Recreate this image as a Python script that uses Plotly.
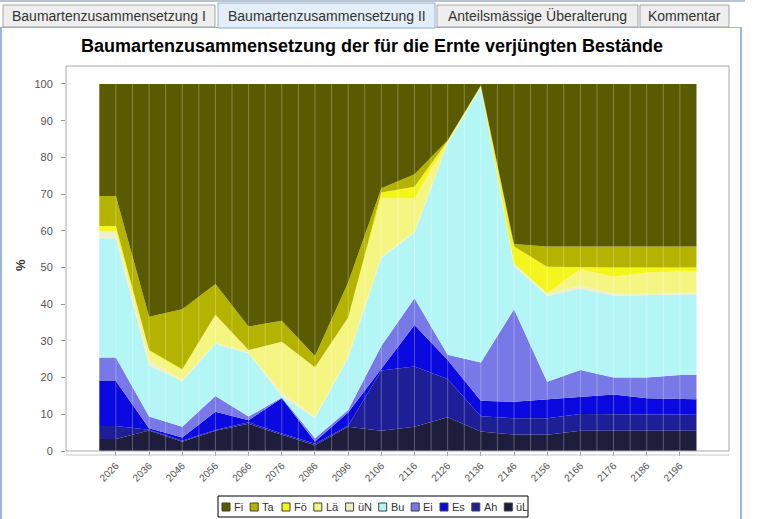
import plotly.graph_objects as go

# ---------------- data ----------------
years = [2026, 2036, 2046, 2056, 2066, 2076, 2086, 2096, 2106, 2116,
         2126, 2136, 2146, 2156, 2166, 2176, 2186, 2196]
tick_labels = [str(y) for y in years]

uL = [3.3, 5.6, 2.5, 5.5, 7.4, 4.4, 1.6, 6.6, 5.5, 6.6, 9.2, 5.3, 4.5, 4.4, 5.5, 5.5, 5.5, 5.5]
Ah = [3.5, 0.2, 0.3, 0.2, 0.4, 0.4, 0.4, 0.3, 16.4, 16.4, 10.4, 4.2, 4.4, 4.5, 4.6, 4.5, 4.4, 4.4]
Es = [12.3, 0.4, 0.9, 5.0, 0.6, 9.6, 0.6, 3.6, 0.4, 11.3, 5.2, 4.2, 4.5, 5.2, 4.7, 5.4, 4.5, 4.2]
Ei = [6.4, 3.2, 2.9, 4.3, 1.0, 0.2, 0.9, 0.7, 6.3, 7.3, 1.4, 10.4, 25.2, 4.8, 7.3, 4.6, 5.6, 6.6]
Bu = [32.5, 13.9, 12.4, 14.2, 17.2, 0.3, 5.5, 14.2, 24.0, 17.9, 57.6, 74.9, 11.8, 23.3, 22.2, 22.3, 22.4, 22.0]
uN = [1.8, 1.5, 0.3, 0.3, 0.2, 1.1, 0.3, 0.3, 0.3, 0.3, 0.2, 0.2, 0.7, 0.8, 0.7, 0.7, 0.6, 0.5]
La = [0.0, 2.3, 2.7, 7.6, 0.7, 13.8, 13.5, 10.7, 15.9, 9.0, 0.3, 0.1, 0.0, 0.0, 4.5, 4.5, 5.6, 5.7]
Fo = [1.5, 0.4, 0.3, 0.0, 0.0, 0.0, 0.0, 0.0, 1.6, 3.2, 0.2, 0.2, 4.6, 7.2, 0.5, 2.5, 1.4, 1.1]
Ta = [8.2, 9.1, 16.3, 8.4, 6.4, 5.7, 3.1, 9.5, 1.2, 3.4, 0.2, 0.1, 0.7, 5.5, 5.7, 5.7, 5.7, 5.7]
Fi = [30.5, 63.4, 61.4, 54.5, 66.1, 64.5, 74.1, 54.1, 28.4, 24.6, 15.3, 0.4, 43.6, 44.3, 44.3, 44.3, 44.3, 44.3]

legend_names = ["Fi", "Ta", "Fö", "Lä", "üN", "Bu", "Ei", "Es", "Ah", "üL"]
series = {"Fi": Fi, "Ta": Ta, "Fö": Fo, "Lä": La, "üN": uN,
          "Bu": Bu, "Ei": Ei, "Es": Es, "Ah": Ah, "üL": uL}
colors = {"Fi": "#5a5a00", "Ta": "#b4b400", "Fö": "#f5f51e", "Lä": "#f5f582",
          "üN": "#f0f0c8", "Bu": "#b4f5f5", "Ei": "#7878e6", "Es": "#0a0ae0",
          "Ah": "#1e1e96", "üL": "#1e1e3c"}

title_text = "Baumartenzusammensetzung der für die Ernte verjüngten Bestände"
tabs = ["Baumartenzusammensetzung I", "Baumartenzusammensetzung II",
        "Anteilsmässige Überalterung", "Kommentar"]

# ---------------- layout helpers (pixels -> paper) ----------------
W, H = 779, 519
L, R, T, B = 66, 729, 66, 451
FONT = "Liberation Sans, Arial, sans-serif"


def px(x):
    return (x - L) / (R - L)


def py(y):
    return (B - y) / (B - T)


fig = go.Figure()

# category band: first/last values extended flat to the band edges
half = (years[1] - years[0]) / 2
xs = [years[0] - half] + years + [years[-1] + half]
for name in reversed(legend_names):  # bottom of stack first
    v = series[name]
    ys = [v[0]] + v + [v[-1]]
    fig.add_trace(go.Scatter(
        x=xs, y=ys, name=name, mode="lines", stackgroup="one",
        line=dict(width=0, color=colors[name]), fillcolor=colors[name],
        showlegend=False, hoverinfo="skip"))

shapes = []
# faint vertical grid lines at category centres and band edges
g = years[0]
while g <= years[-1] + 0.1:
    shapes.append(dict(type="line", xref="x", yref="y", x0=g, x1=g, y0=0, y1=100,
                       line=dict(color="rgba(255,255,255,0.28)", width=1), layer="above"))
    g += half

# plot frame
shapes.append(dict(type="rect", xref="paper", yref="paper", x0=0, x1=1, y0=0, y1=1,
                   line=dict(color="#a8a8a8", width=1), layer="above"))
# separate category-axis line just below the frame
shapes.append(dict(type="line", xref="paper", yref="paper", x0=px(66), x1=px(729),
                   y0=py(455), y1=py(455), line=dict(color="#c8c8c8", width=1)))

annotations = []

# panel border (light blue)
shapes.append(dict(type="line", xref="paper", yref="paper", x0=px(741), x1=px(741),
                   y0=py(27), y1=py(519), line=dict(color="#9bb8dc", width=2)))
shapes.append(dict(type="line", xref="paper", yref="paper", x0=px(1), x1=px(1),
                   y0=py(27), y1=py(519), line=dict(color="#9bb8dc", width=2)))
shapes.append(dict(type="line", xref="paper", yref="paper", x0=px(0), x1=px(742),
                   y0=py(27.5), y1=py(27.5), line=dict(color="#9bb8dc", width=1)))
# top strip
shapes.append(dict(type="rect", xref="paper", yref="paper", x0=px(0), x1=px(745),
                   y0=py(0), y1=py(2), fillcolor="#b8c4d0", line=dict(width=0)))

# tabs
tab_geo = [(3, 215, False), (218, 435, True), (437, 638, False), (640, 729, False)]
for label, (x0, x1, sel) in zip(tabs, tab_geo):
    top = 3 if sel else 5
    shapes.append(dict(type="rect", xref="paper", yref="paper",
                       x0=px(x0), x1=px(x1), y0=py(28 if sel else 27), y1=py(top),
                       fillcolor="#e4eef8" if sel else "#eeeeee",
                       line=dict(color="#8fb0d8" if sel else "#a5a5a5", width=1)))
    annotations.append(dict(x=px((x0 + x1) / 2), y=py(16), xref="paper", yref="paper",
                            text=label, showarrow=False, xanchor="center", yanchor="middle",
                            font=dict(family=FONT, size=14, color="#333333")))

# title
annotations.append(dict(x=px(372), y=py(46), xref="paper", yref="paper",
                        text="<b>" + title_text + "</b>",
                        showarrow=False, xanchor="center", yanchor="middle",
                        font=dict(family=FONT, size=18, color="#000000")))

# y axis title
annotations.append(dict(x=px(20), y=py(265), xref="paper", yref="paper", text="<b>%</b>",
                        showarrow=False, textangle=-90, xanchor="center", yanchor="middle",
                        font=dict(family=FONT, size=13, color="#333333")))

# manual legend
text_w = {"Fi": 9.2, "Ta": 12.8, "Fö": 12.8, "Lä": 12.8, "üN": 14.1,
          "Bu": 13.5, "Ei": 9.8, "Es": 12.8, "Ah": 13.5, "üL": 12.2}
shapes.append(dict(type="rect", xref="paper", yref="paper", x0=px(218), x1=px(528),
                   y0=py(496), y1=py(517), line=dict(color="#000000", width=1),
                   fillcolor="#ffffff"))
cx = 222
for name in legend_names:
    shapes.append(dict(type="rect", xref="paper", yref="paper", x0=px(cx), x1=px(cx + 8),
                       y0=py(511), y1=py(503), fillcolor=colors[name],
                       line=dict(color="#404040", width=1)))
    annotations.append(dict(x=px(cx + 10), y=py(507), xref="paper", yref="paper", text=name,
                            showarrow=False, xanchor="left", yanchor="middle",
                            font=dict(family=FONT, size=11, color="#333333")))
    cx += 11 + text_w[name] + 8

fig.update_layout(
    width=W, height=H,
    margin=dict(l=L, r=W - R, t=T, b=H - B, pad=0),
    paper_bgcolor="#ffffff", plot_bgcolor="#ffffff",
    showlegend=False,
    shapes=shapes, annotations=annotations,
    xaxis=dict(range=[years[0] - 15.04, years[-1] + 14.8], tickmode="array",
               tickvals=years, ticktext=tick_labels, tickangle=-45,
               tickfont=dict(family=FONT, size=10, color="#555555"),
               ticks="outside", ticklen=4, tickcolor="#999999",
               showgrid=False, zeroline=False, showline=False),
    yaxis=dict(range=[0, 104.9], tickmode="array", tickvals=list(range(0, 101, 10)),
               tickfont=dict(family=FONT, size=11, color="#555555"),
               ticks="outside", ticklen=4, tickcolor="#999999", ticklabelstandoff=6,
               showgrid=False, zeroline=False, showline=False),
)

fig.write_html("out.html", config={"displayModeBar": False},
               post_script="document.body.style.margin='0';document.body.style.padding='0';")
